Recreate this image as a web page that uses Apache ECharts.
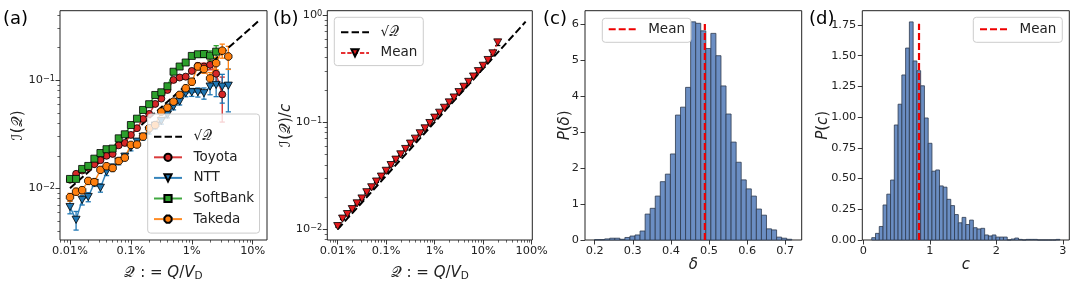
<!DOCTYPE html>
<html><head><meta charset="utf-8">
<script src="https://cdn.jsdelivr.net/npm/echarts@6/dist/echarts.min.js"></script>
<style>html,body{margin:0;padding:0;background:#fff}#c{width:1080px;height:288px}</style>
</head><body><div id="c"></div>
<script>
// ---------------- data ----------------
const qValues = [1.000e-4,1.259e-4,1.585e-4,1.995e-4,2.512e-4,3.162e-4,3.981e-4,5.012e-4,6.310e-4,7.943e-4,
  1.000e-3,1.259e-3,1.585e-3,1.995e-3,2.512e-3,3.162e-3,3.981e-3,5.012e-3,6.310e-3,7.943e-3,
  1.000e-2,1.259e-2,1.585e-2,1.995e-2,2.512e-2,3.162e-2,3.981e-2,5.012e-2,6.310e-2,7.943e-2,
  0.1000,0.1259,0.1585,0.1995];

const toyota = [0.0120,0.0136,0.0146,0.0155,0.0167,0.0182,0.0200,0.0208,0.0250,0.0263,0.0312,0.0360,0.0438,0.0488,0.0604,0.0676,0.0813,0.1007,0.106,0.108,0.122,0.136,0.134,0.139,0.115,0.074];
const toyotaErr = [0.0004,0.0004,0.0004,0.0005,0.0005,0.0005,0.0006,0.0006,0.0007,0.0008,0.0009,0.0011,0.0013,0.0015,0.0019,0.0022,0.0027,0.0035,0.004,0.005,0.006,0.008,0.010,0.014,0.022,0.033];
const ntt = [0.0067,0.0051,0.0078,0.0083,0.0112,0.0101,0.0142,0.0155,0.0177,0.0196,0.0238,0.0270,0.0300,0.0340,0.0380,0.0420,0.048,0.057,0.0635,0.0758,0.0774,0.0774,0.0758,0.0874,0.0905,0.0874,0.089];
const nttErr = [0.0009,0.0010,0.0008,0.0008,0.0008,0.0009,0.0011,0.0012,0.0012,0.0014,0.0016,0.0018,0.0020,0.0022,0.0025,0.0028,0.0032,0.0038,0.0045,0.0055,0.0065,0.0075,0.009,0.014,0.020,0.026,0.038];
const softbank = [0.0122,0.0122,0.0151,0.0161,0.0188,0.0212,0.0230,0.0233,0.0290,0.0316,0.0385,0.0441,0.0531,0.0600,0.0731,0.0774,0.0880,0.120,0.134,0.146,0.168,0.174,0.175,0.169,0.184];
const softbankErr = [0.0005,0.0005,0.0006,0.0006,0.0007,0.0008,0.0008,0.0009,0.0011,0.0012,0.0014,0.0016,0.0019,0.0022,0.0027,0.003,0.0035,0.0045,0.0055,0.0065,0.008,0.010,0.013,0.018,0.025];
const takeda = [0.00826,0.0093,0.0096,0.0117,0.0114,0.0148,0.0160,0.0154,0.0179,0.0192,0.0252,0.0254,0.0301,0.0360,0.0385,0.0512,0.0558,0.0634,0.0732,0.0843,0.097,0.134,0.127,0.104,0.144,0.188,0.166];
const takedaErr = [0.0007,0.0007,0.0007,0.0008,0.0008,0.0009,0.0010,0.0010,0.0011,0.0012,0.0014,0.0015,0.0017,0.0020,0.0023,0.0027,0.0031,0.0037,0.0045,0.0055,0.0070,0.009,0.011,0.014,0.019,0.028,0.040];

const meanScaled = [0.0107,0.01257,0.01385,0.0154,0.01744,0.01938,0.02215,0.02463,0.02788,0.0310,0.0351,0.0397,0.0446,0.0500,0.0561,0.0630,0.0700,0.0786,0.0874,0.0980,0.110,0.1223,0.136,0.1526,0.1696,0.1902,0.2135,0.2373,0.2663,0.2987,0.3352,0.3796,0.438,0.554];
const meanScaledErr = [0.0002,0.0002,0.0003,0.0003,0.0003,0.0004,0.0004,0.0005,0.0005,0.0006,0.0007,0.0008,0.0009,0.001,0.0011,0.0013,0.0014,0.0016,0.0018,0.002,0.0022,0.0025,0.003,0.0033,0.0037,0.0042,0.0048,0.0055,0.0062,0.0072,0.0085,0.01,0.014,0.035];

const sqrtLineA = [[1e-4, 0.01], [0.125, 0.35355]];
const sqrtLineB = [[1e-4, 0.01], [0.75, 0.86603]];

const deltaBinStart = 0.1996, deltaBinWidth = 0.01327;
const deltaDensity = [0.01,0.01,0.03,0.05,0.05,0.02,0.07,0.11,0.14,0.25,0.72,0.88,1.22,1.62,1.83,2.39,3.47,3.69,4.24,6.06,
  6.02,5.81,5.32,5.74,5.12,4.28,3.50,2.72,2.16,1.67,1.42,1.22,0.86,0.69,0.31,0.28,0.08,0.05,0.02];
const deltaMean = 0.489, deltaMeanTop = 6.0;

const cBinStart = 0.127, cBinWidth = 0.0566;
const cDensity = [0.019,0.054,0.11,0.285,0.373,0.488,0.936,1.105,1.343,1.562,1.775,1.457,1.378,1.255,0.993,0.787,0.56,0.57,0.44,0.43,
  0.331,0.28,0.207,0.14,0.184,0.126,0.162,0.10,0.09,0.095,0.041,0.033,0.041,0.024,0.024,0.024,0,0.008,0.016,0.005,
  0,0.005,0.005,0.005,0,0,0,0,0,0.005];
const cMean = 0.838, cMeanTop = 1.76;

const xTicksA = [1e-4, 1e-3, 1e-2, 1e-1];
const xTickLabelsA = ['0.01%', '0.1%', '1%', '10%'];
const yTicksA = [1e-2, 1e-1];
const yTickLabelsA = ['10{sup|−2}', '10{sup|−1}'];
const xTicksB = [1e-4, 1e-3, 1e-2, 1e-1, 1];
const xTickLabelsB = ['0.01%', '0.1%', '1%', '10%', '100%'];
const yTicksB = [1e-2, 1e-1, 1];
const yTickLabelsB = ['10{sup|−2}', '10{sup|−1}', '10{sup|0}'];
const xTicksC = [0.2, 0.3, 0.4, 0.5, 0.6, 0.7];
const xTickLabelsC = ['0.2', '0.3', '0.4', '0.5', '0.6', '0.7'];
const yTicksC = [0, 1, 2, 3, 4, 5, 6];
const yTickLabelsC = ['0', '1', '2', '3', '4', '5', '6'];
const xTicksD = [0, 1, 2, 3];
const xTickLabelsD = ['0', '1', '2', '3'];
const yTicksD = [0, 0.25, 0.5, 0.75, 1.0, 1.25, 1.5, 1.75];
const yTickLabelsD = ['0.00', '0.25', '0.50', '0.75', '1.00', '1.25', '1.50', '1.75'];

// ---------------- helpers ----------------
const FONT = 'DejaVu Sans';
const TXT = '#222';
const L = Math.log10;
const clean = s => s.replace(/\u200b/g, '');

function logPts(xs, ys) { return ys.map((y, i) => [L(xs[i]), L(y)]); }
function errPts(xs, ys, es) { return ys.map((y, i) => [L(xs[i]), L(y - es[i]), L(y + es[i])]); }
function logMinor(lo, hi) {
  const out = [];
  for (let e = Math.floor(lo) - 1; e <= Math.ceil(hi); e++)
    for (let m = 2; m <= 9; m++) { const v = L(m) + e; if (v >= lo && v <= hi) out.push(v); }
  return out;
}
function labelLookup(vals, labels) {
  return v => { for (let i = 0; i < vals.length; i++) if (Math.abs(vals[i] - v) < 1e-6) return labels[i]; return ''; };
}
const supRich = {
  sup: { fontSize: 8.2, fontFamily: FONT, color: TXT, verticalAlign: 'top', lineHeight: 9, padding: [0, 0, 4, 0] }
};
const nameRich = {
  it: { fontStyle: 'italic', fontSize: 15, fontFamily: FONT, color: TXT },
  sub: { fontSize: 10.5, fontFamily: FONT, color: TXT, verticalAlign: 'bottom', padding: [7, 0, 0, 0] }
};

function axisPair(dim, grid, min, max, majors, labels, isLog, nameOpt, labelMargin) {
  const majorVals = isLog ? majors.map(L) : majors;
  const base = {
    type: 'value', gridIndex: grid, min: min, max: max,
    position: dim === 'x' ? 'bottom' : 'left',
    axisLine: { show: false, onZero: false },
    splitLine: { show: false }
  };
  const major = Object.assign({}, base, {
    axisTick: { show: true, customValues: majorVals, length: 4.5, lineStyle: { color: TXT, width: 0.9 } },
    axisLabel: {
      show: true, customValues: majorVals, formatter: labelLookup(majorVals, labels),
      fontSize: 11.3, fontFamily: FONT, color: TXT, margin: labelMargin, rich: supRich, hideOverlap: false
    },
    nameMoveOverlap: false
  }, nameOpt || {});
  const list = [major];
  if (isLog) {
    list.push(Object.assign({}, base, {
      axisTick: { show: true, customValues: logMinor(min, max), length: 2.6, lineStyle: { color: TXT, width: 0.7 } },
      axisLabel: { show: false }
    }));
  }
  return list;
}
function nameX(text, gap) {
  return { name: text, nameLocation: 'middle', nameGap: gap,
    nameTextStyle: { fontSize: 15, fontFamily: FONT, color: TXT, rich: nameRich } };
}
function nameY(text, gap) {
  return { name: text, nameLocation: 'middle', nameGap: gap, nameRotate: 90,
    nameTextStyle: { fontSize: 15, fontFamily: FONT, color: TXT, rich: nameRich } };
}

function errorBars(name, data, color, xi, yi, cap) {
  return {
    type: 'custom', name: name, xAxisIndex: xi, yAxisIndex: yi, data: data, silent: true,
    encode: { x: 0, y: [1, 2] },
    renderItem: function (params, api) {
      const x = api.value(0);
      const p1 = api.coord([x, api.value(1)]);
      const p2 = api.coord([x, api.value(2)]);
      const st = { stroke: color, lineWidth: 1.3 };
      return { type: 'group', children: [
        { type: 'line', shape: { x1: p1[0], y1: p1[1], x2: p2[0], y2: p2[1] }, style: st },
        { type: 'line', shape: { x1: p1[0] - cap, y1: p1[1], x2: p1[0] + cap, y2: p1[1] }, style: st },
        { type: 'line', shape: { x1: p2[0] - cap, y1: p2[1], x2: p2[0] + cap, y2: p2[1] }, style: st }
      ] };
    }
  };
}
function markerLine(name, data, color, symbol, size, xi, yi, lineStyleExtra) {
  return {
    type: 'line', name: name, xAxisIndex: xi, yAxisIndex: yi, data: data,
    symbol: symbol, symbolSize: size, showSymbol: true, showAllSymbol: true,
    lineStyle: Object.assign({ color: color, width: 1.5, opacity: 0.9 }, lineStyleExtra || {}),
    itemStyle: { color: color, borderColor: '#000', borderWidth: 0.8, opacity: 1 },
    emphasis: { disabled: true }, silent: true
  };
}
function histogram(start, width, dens, xi, yi) {
  const data = dens.map((h, i) => [start + i * width, start + (i + 1) * width, h]);
  return {
    type: 'custom', xAxisIndex: xi, yAxisIndex: yi, data: data, silent: true,
    encode: { x: [0, 1], y: 2 },
    renderItem: function (params, api) {
      const a = api.coord([api.value(0), 0]);
      const b = api.coord([api.value(1), api.value(2)]);
      return { type: 'rect', shape: { x: a[0], y: b[1], width: b[0] - a[0], height: a[1] - b[1] },
        style: { fill: '#6b8ec3', stroke: '#2d3a4e', lineWidth: 0.8 } };
    }
  };
}
// legend entries whose series are plain lines: hide the symbol ECharts would add
function lineOnly(name) { return { name: name, itemStyle: { opacity: 0 } }; }
function legendBox(items, left, top, padding) {
  return {
    data: items, orient: 'vertical', left: left, top: top, padding: padding,
    itemWidth: 28, itemHeight: 9, itemGap: 6.6,
    backgroundColor: 'rgba(255,255,255,0.8)', borderColor: '#cccccc', borderWidth: 1, borderRadius: 3,
    selectedMode: false,
    formatter: n => '{t|' + clean(n) + '}',
    textStyle: { fontSize: 13.5, fontFamily: FONT, color: TXT, lineHeight: 14,
      rich: { t: { fontSize: 13.5, fontFamily: FONT, color: TXT, padding: [0, 0, 0, 6.5], lineHeight: 14 } } }
  };
}

const TRI_DOWN = 'path://M0,0L10,0L5,9Z';
const OCT = 'path://M2.9,0L7.1,0L10,2.9L10,7.1L7.1,10L2.9,10L0,7.1L0,2.9Z';
const C_TOY = '#d62728', C_NTT = '#1f77b4', C_SB = '#2ca02c', C_TAK = '#ff7f0e';

// ---------------- axes ----------------
const axA = { xmin: -4.164, xmax: -0.765, ymin: -2.479, ymax: -0.356 };
const axB = { xmin: -4.214, xmax: 0.0124, ymin: -2.1, ymax: 0.040 };

const xAxes = [].concat(
  axisPair('x', 0, axA.xmin, axA.xmax, xTicksA, xTickLabelsA, true, nameX('𝒬 : = {it|Q}/{it|V}{sub|D}', 24), 6),
  axisPair('x', 1, axB.xmin, axB.xmax, xTicksB, xTickLabelsB, true, nameX('𝒬 : = {it|Q}/{it|V}{sub|D}', 24), 6),
  axisPair('x', 2, 0.1745, 0.7432, xTicksC, xTickLabelsC, false, nameX('{it|δ}', 18), 6),
  axisPair('x', 3, -0.015, 3.098, xTicksD, xTickLabelsD, false, nameX('{it|c}', 18), 6)
);
const yAxes = [].concat(
  axisPair('y', 0, axA.ymin, axA.ymax, yTicksA, yTickLabelsA, true, nameY('ℐ(𝒬)', 34), 5),
  axisPair('y', 1, axB.ymin, axB.ymax, yTicksB, yTickLabelsB, true, nameY('ℐ(𝒬)/{it|c}', 34), 5),
  axisPair('y', 2, 0, 6.37, yTicksC, yTickLabelsC, false, nameY('{it|P}({it|δ})', 12), 6),
  axisPair('y', 3, 0, 1.866, yTicksD, yTickLabelsD, false, nameY('{it|P}({it|c})', 32), 6)
);
// axis indices: x: 0 a-major,1 a-minor,2 b-major,3 b-minor,4 c,5 d (same for y)

const gridBase = { top: 10.7, height: 229.3, show: true, borderColor: TXT, borderWidth: 1,
  backgroundColor: 'transparent', containLabel: false, outerBoundsMode: 'none' };
const grids = [
  Object.assign({ left: 60, width: 207 }, gridBase),
  Object.assign({ left: 327.3, width: 205 }, gridBase),
  Object.assign({ left: 585, width: 216.7 }, gridBase),
  Object.assign({ left: 862.3, width: 207 }, gridBase)
];

// ---------------- series ----------------
const sqrtStyle = { type: [7.4, 3.2], width: 2, color: '#000', opacity: 1 };
const series = [
  { type: 'line', name: '√𝒬', xAxisIndex: 0, yAxisIndex: 0, data: sqrtLineA.map(p => [L(p[0]), L(p[1])]),
    symbol: 'none', lineStyle: sqrtStyle, itemStyle: { color: '#000' }, silent: true },
  errorBars('Toyota err', errPts(qValues, toyota, toyotaErr), C_TOY, 0, 0, 2.6),
  markerLine('Toyota', logPts(qValues, toyota), C_TOY, 'circle', 7, 0, 0),
  errorBars('NTT err', errPts(qValues, ntt, nttErr), C_NTT, 0, 0, 2.6),
  markerLine('NTT', logPts(qValues, ntt), C_NTT, TRI_DOWN, [8, 7.2], 0, 0),
  errorBars('SoftBank err', errPts(qValues, softbank, softbankErr), C_SB, 0, 0, 2.6),
  markerLine('SoftBank', logPts(qValues, softbank), C_SB, 'rect', 7, 0, 0),
  errorBars('Takeda err', errPts(qValues, takeda, takedaErr), C_TAK, 0, 0, 2.6),
  markerLine('Takeda', logPts(qValues, takeda), C_TAK, OCT, 7.4, 0, 0),

  { type: 'line', name: '√𝒬\u200b', xAxisIndex: 2, yAxisIndex: 2, data: sqrtLineB.map(p => [L(p[0]), L(p[1])]),
    symbol: 'none', lineStyle: sqrtStyle, itemStyle: { color: '#000' }, silent: true },
  errorBars('Mean err', errPts(qValues, meanScaled, meanScaledErr), '#000', 2, 2, 2.6),
  markerLine('Mean', logPts(qValues, meanScaled), '#e31a1c', TRI_DOWN, [8, 7.2], 2, 2, { type: [4.4, 1.9], width: 1.2 }),

  histogram(deltaBinStart, deltaBinWidth, deltaDensity, 4, 4),
  { type: 'line', name: 'Mean\u200b', xAxisIndex: 4, yAxisIndex: 4, data: [[deltaMean, 0], [deltaMean, deltaMeanTop]],
    symbol: 'none', lineStyle: { color: '#ee0000', width: 2.2, type: [7, 3] }, itemStyle: { color: '#ee0000' }, silent: true },

  histogram(cBinStart, cBinWidth, cDensity, 5, 5),
  { type: 'line', name: 'Mean\u200b\u200b', xAxisIndex: 5, yAxisIndex: 5, data: [[cMean, 0], [cMean, cMeanTop]],
    symbol: 'none', lineStyle: { color: '#ee0000', width: 2.2, type: [7, 3] }, itemStyle: { color: '#ee0000' }, silent: true }
];

const legends = [
  legendBox([lineOnly('√𝒬'), 'Toyota', 'NTT', 'SoftBank', 'Takeda'], 147.7, 114, [15.7, 5.5, 7, 5.3]),
  legendBox([lineOnly('√𝒬\u200b'), 'Mean'], 334.3, 17.3, [8, 6, 5.7, 5.7]),
  legendBox([lineOnly('Mean\u200b')], 602.3, 18.3, [4, 6, 6, 5.4]),
  legendBox([lineOnly('Mean\u200b\u200b')], 973.3, 17.3, [5, 6, 6, 5.7])
];

const panelLabels = [['(a)', 3], ['(b)', 273], ['(c)', 543], ['(d)', 809]].map(p => ({
  type: 'text', x: p[1], y: 19, silent: true,
  style: { text: p[0], fontSize: 18, fontFamily: FONT, fill: '#000', align: 'left', verticalAlign: 'middle' }
}));

const chart = echarts.init(document.getElementById('c'), null, { renderer: 'canvas' });
chart.setOption({
  animation: false,
  backgroundColor: '#fff',
  textStyle: { fontFamily: FONT },
  grid: grids,
  xAxis: xAxes,
  yAxis: yAxes,
  legend: legends,
  series: series,
  graphic: panelLabels
});
</script></body></html>
